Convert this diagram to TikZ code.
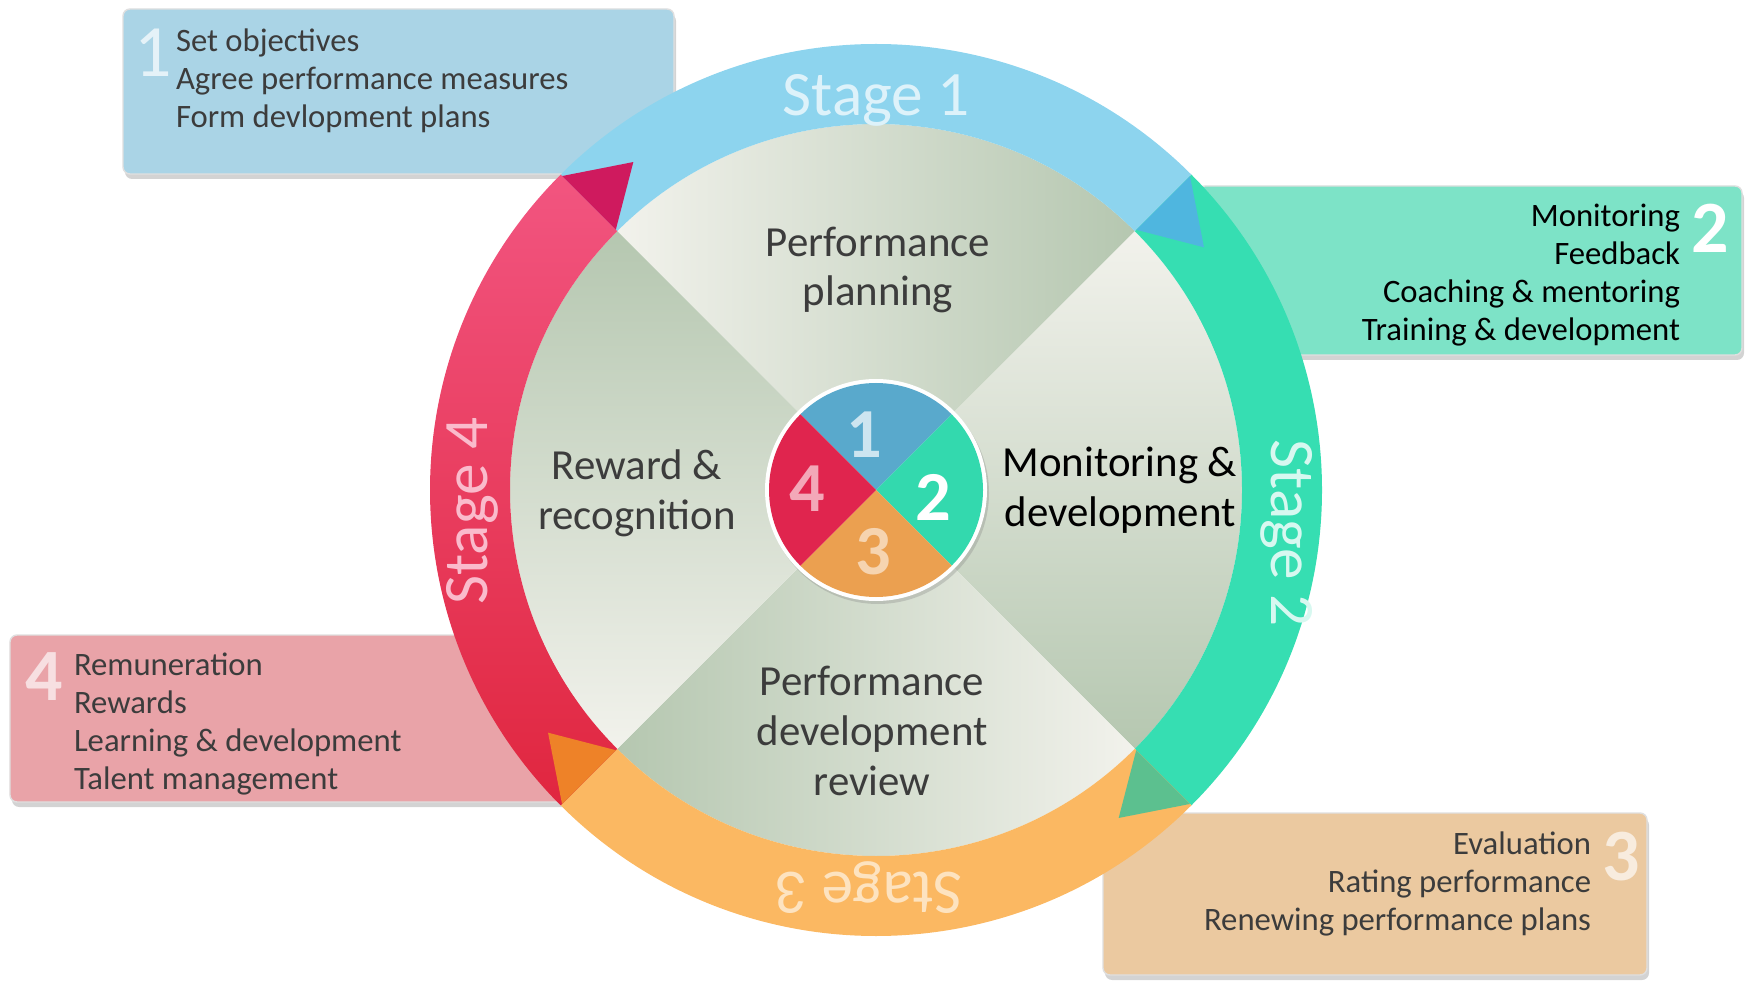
\documentclass[tikz,border=0pt]{standalone}
\usepackage{fontspec}
\setmainfont{Carlito}
\usetikzlibrary{positioning,shadows}

\definecolor{boxone}{HTML}{AAD4E6}
\definecolor{boxtwo}{HTML}{7DE3C7}
\definecolor{boxthree}{HTML}{EBC9A0}
\definecolor{boxfour}{HTML}{E9A3A8}
\definecolor{ringone}{HTML}{8DD4EE}
\definecolor{ringtwo}{HTML}{36DEB2}
\definecolor{ringthree}{HTML}{FBB862}
\definecolor{ringfourtop}{HTML}{F25580}
\definecolor{ringfourbot}{HTML}{E0263F}
\definecolor{tipone}{HTML}{4FB6DF}
\definecolor{tiptwo}{HTML}{5CC08F}
\definecolor{tipthree}{HTML}{EE8228}
\definecolor{tipfour}{HTML}{CF1A5E}
\definecolor{qlight}{HTML}{F2F2EC}
\definecolor{qdark}{HTML}{B5C7B0}
\definecolor{hubone}{HTML}{59A9CC}
\definecolor{hubtwo}{HTML}{33D9AE}
\definecolor{hubthree}{HTML}{EBA050}
\definecolor{hubfour}{HTML}{E0254E}
\definecolor{txtgray}{HTML}{3C3C3C}

\begin{document}
\begin{tikzpicture}[box/.style={rectangle, rounded corners=2pt, draw=white!75!gray, line width=0.4pt,
		drop shadow={shadow xshift=0.02cm, shadow yshift=-0.05cm, opacity=0.35, fill=gray}},
		boxtext/.style={font=\fontsize{9.3}{10.8}\selectfont, text=txtgray, inner sep=0pt},
		boxnum/.style={font=\fontsize{21}{21}\selectfont, inner sep=0pt},
		quadtext/.style={font=\fontsize{12.2}{14.2}\selectfont, align=center, text=txtgray},
		stagetext/.style={font=\fontsize{18}{18}\selectfont},
		hubnum/.style={font=\bfseries\fontsize{20}{20}\selectfont}]
		
		\useasboundingbox (0,0) rectangle (17.47,9.84);
		
		\node[box, fill=boxone, minimum width=5.51cm, minimum height=1.65cm]   (B1) at (3.985,8.925) {};
		\node[box, fill=boxtwo, minimum width=5.44cm, minimum height=1.69cm]   (B2) at (14.70,7.135) {};
		\node[box, fill=boxthree, minimum width=5.44cm, minimum height=1.62cm] (B3) at (13.75,0.90) {};
		\node[box, fill=boxfour, minimum width=5.70cm, minimum height=1.67cm]  (B4) at (2.95,2.655) {};
		
		\node[boxtext, align=left, anchor=north west]  (L1) at ([xshift=0.53cm,yshift=-0.20cm]B1.north west) {Set objectives\\Agree performance measures\\Form devlopment plans};
		\node[boxtext, align=right, anchor=north east, text=black] (L2) at ([xshift=-0.62cm,yshift=-0.18cm]B2.north east) {Monitoring\\Feedback\\Coaching \& mentoring\\Training \& development};
		\node[boxtext, align=right, anchor=north east] (L3) at ([xshift=-0.56cm,yshift=-0.19cm]B3.north east) {Evaluation\\Rating performance\\Renewing performance plans};
		\node[boxtext, align=left, anchor=north west]  (L4) at ([xshift=0.64cm,yshift=-0.18cm]B4.north west) {Remuneration\\Rewards\\Learning \& development\\Talent management};
		
		\node[boxnum, text=white!70!boxone] (N1) [left=0.03cm of L1.north west, anchor=north east] {1};
		\node[boxnum, text=white, font=\bfseries\fontsize{21}{21}\selectfont] (N2) [right=0.1cm of L2.north east, anchor=north west] {2};
		\node[boxnum, text=white!65!boxthree, font=\bfseries\fontsize{21}{21}\selectfont] (N3) [right=0.1cm of L3.north east, anchor=north west] {3};
		\node[boxnum, text=white!65!boxfour, font=\bfseries\fontsize{21}{21}\selectfont] (N4) [left=0.1cm of L4.north west, anchor=north east] {4};
		
		\begin{scope}[shift={(8.76,4.94)}]
			\shade[left color=qlight, right color=qdark] (0,0) -- (135:3.66) arc[start angle=135, end angle=45, radius=3.66] -- cycle;
			\shade[top color=qlight, bottom color=qdark] (0,0) -- (45:3.66) arc[start angle=45, end angle=-45, radius=3.66] -- cycle;
			\shade[right color=qlight, left color=qdark] (0,0) -- (-45:3.66) arc[start angle=-45, end angle=-135, radius=3.66] -- cycle;
			\shade[bottom color=qlight, top color=qdark] (0,0) -- (-135:3.66) arc[start angle=-135, end angle=-225, radius=3.66] -- cycle;
			
			\fill[ringone] (135:4.46) arc[start angle=135, end angle=45, radius=4.46] -- (45:3.66) arc[start angle=45, end angle=135, radius=3.66] -- cycle;
			\fill[ringtwo] (45:4.46) arc[start angle=45, end angle=-45, radius=4.46] -- (-45:3.66) arc[start angle=-45, end angle=45, radius=3.66] -- cycle;
			\fill[ringthree] (-45:4.46) arc[start angle=-45, end angle=-135, radius=4.46] -- (-135:3.66) arc[start angle=-135, end angle=-45, radius=3.66] -- cycle;
			\shade[top color=ringfourtop, bottom color=ringfourbot] (135:4.46) arc[start angle=135, end angle=225, radius=4.46] -- (225:3.66) arc[start angle=225, end angle=135, radius=3.66] -- cycle;
			
			\foreach \a/\c in {135/tipfour, 45/tipone, -45/tiptwo, -135/tipthree}
			\fill[\c] (\a:4.44) -- (\a-8.5:4.08) -- (\a:3.68) -- cycle;
			
			\node[stagetext, text=white!70!ringone]              (S1) at (90:3.90) {Stage 1};
			\node[stagetext, text=white!80!ringtwo, rotate=-90]  (S2) at (-6:4.13) {Stage 2};
			\node[stagetext, text=white!60!ringthree, rotate=180] (S3) at (-91:3.98) {Stage 3};
			\node[stagetext, text=white!60!ringfourtop, rotate=90] (S4) at (183:4.04) {Stage 4};
			
			\node[quadtext] (P1) at (0.02,2.20) {Performance\\planning};
			\node[quadtext, text=black] (P2) at (2.44,0.00) {Monitoring \&\\development};
			\node[quadtext] (P3) at (-0.04,-2.41) {Performance\\development\\review};
			\node[quadtext] (P4) at (-2.39,-0.03) {Reward \&\\recognition};
			
			\fill[white, drop shadow={shadow xshift=0.02cm, shadow yshift=-0.03cm, opacity=0.3}] (0,0) circle (1.11);
			\foreach \a/\c in {90/hubone, 0/hubtwo, -90/hubthree, 180/hubfour}
			\fill[\c] (0,0) -- (\a+45:1.07) arc[start angle=\a+45, end angle=\a-45, radius=1.07] -- cycle;
			
			\node[hubnum, text=white!70!hubone]   (H1) at (-0.12,0.55) {1};
			\node[hubnum, text=white]             (H2) at (0.57,-0.07) {2};
			\node[hubnum, text=white!55!hubthree] (H3) at (-0.03,-0.62) {3};
			\node[hubnum, text=white!60!hubfour]  (H4) at (-0.69,0.01) {4};
		\end{scope}
	\end{tikzpicture}
\end{document}
